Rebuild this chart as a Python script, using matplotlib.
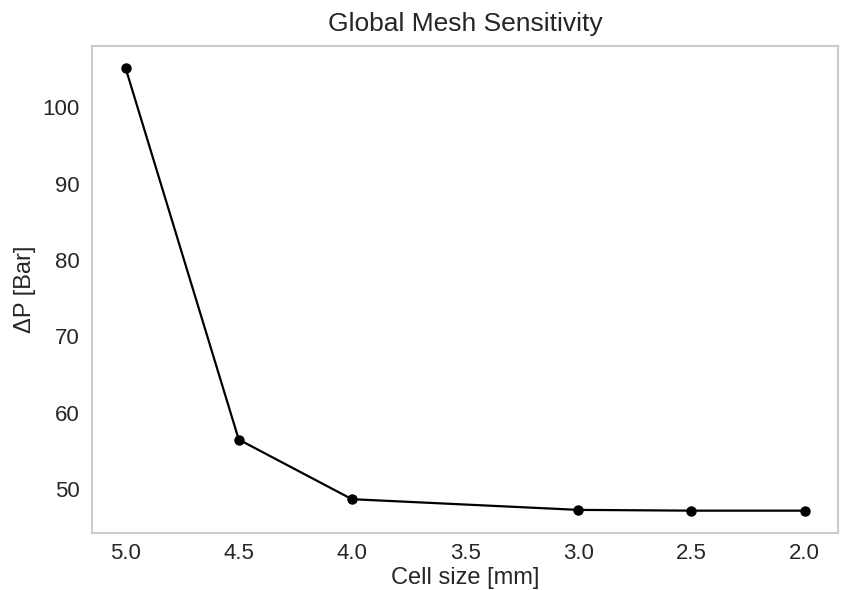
import matplotlib
matplotlib.use('Agg')
import matplotlib.pyplot as plt
import seaborn as sns

# Mesh sensitivity data
cell_size = [5.0, 4.5, 4.0, 3.0, 2.5, 2.0]
delta_p = [105.1, 56.5, 48.7, 47.3, 47.2, 47.2]

sns.set_style('whitegrid')
plt.rcParams['font.family'] = ['Liberation Sans', 'DejaVu Sans']

fig, ax = plt.subplots(figsize=(8.41, 5.90), dpi=100)
ax.plot(cell_size, delta_p, color='black', marker='o', markersize=6.5, linewidth=1.6)
ax.invert_xaxis()
ax.grid(False)
for s in ax.spines.values():
    s.set_color('#cccccc')
    s.set_linewidth(1.5)

ax.set_title('Global Mesh Sensitivity', fontsize=19, color='#262626', pad=11)
ax.set_xlabel('Cell size [mm]', fontsize=17, color='#262626', labelpad=2)
ax.set_ylabel('ΔP [Bar]', fontsize=17, color='#262626', labelpad=5)
ax.tick_params(axis='y', labelsize=16, colors='#262626', pad=5)
ax.tick_params(axis='x', labelsize=16, colors='#262626', pad=4)

fig.subplots_adjust(left=0.109, right=0.997, top=0.922, bottom=0.097)
fig.savefig('out.png', dpi=100)
